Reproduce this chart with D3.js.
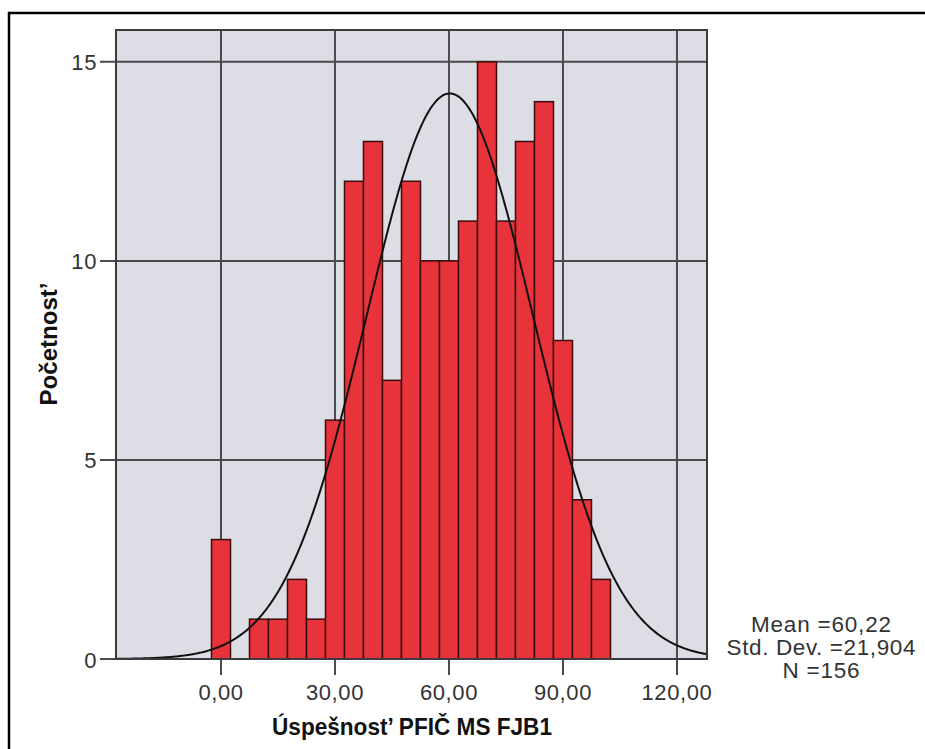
<!DOCTYPE html>
<html>
<head>
<meta charset="utf-8">
<script src="https://cdn.jsdelivr.net/npm/d3@7"></script>
<style>
  html, body { margin: 0; padding: 0; background: #fff; }
  svg { display: block; }
  text { font-family: "Liberation Sans", Arial, sans-serif; }
</style>
</head>
<body>
<svg id="chart" width="925" height="749"></svg>
<script>
// ---- data ----
const binCenters = [0, 5, 10, 15, 20, 25, 30, 35, 40, 45, 50, 55, 60, 65, 70, 75, 80, 85, 90, 95, 100];
const binCounts  = [3, 0, 1, 1, 2, 1, 6, 12, 13, 7, 12, 10, 10, 11, 15, 11, 13, 14, 8, 4, 2];
const binWidth = 5;
const xTicks = [0, 30, 60, 90, 120];
const xTickLabels = ["0,00", "30,00", "60,00", "90,00", "120,00"];
const yTicks = [0, 5, 10, 15];
const yTickLabels = ["0", "5", "10", "15"];
const statMean = 60.22;
const statSD = 21.904;
const statN = 156;
const statLines = ["Mean =60,22", "Std. Dev. =21,904", "N =156"];
const xTitle = "Úspešnost’ PFIČ MS FJB1";
const yTitle = "Početnost’";

// ---- layout ----
const svg = d3.select("#chart");
const plot = { left: 116, right: 707, top: 30, bottom: 659 };

const x = d3.scaleLinear().domain([-27.63, 127.9]).range([plot.left, plot.right]);
const y = d3.scaleLinear().domain([0, 15.8]).range([plot.bottom, plot.top]);

// outer frame (cropped at right/bottom)
svg.append("rect")
  .attr("x", 9).attr("y", 13).attr("width", 940).attr("height", 760)
  .attr("fill", "none").attr("stroke", "#000").attr("stroke-width", 2.5);

// plot background
svg.append("rect")
  .attr("x", plot.left).attr("y", plot.top)
  .attr("width", plot.right - plot.left).attr("height", plot.bottom - plot.top)
  .attr("fill", "#dddde5");

// grid lines
const gridColor = "#4a4a4f";
svg.append("g").selectAll("line").data(xTicks).join("line")
  .attr("x1", d => x(d)).attr("x2", d => x(d))
  .attr("y1", plot.top).attr("y2", plot.bottom + 16)
  .attr("stroke", gridColor).attr("stroke-width", 2);
svg.append("g").selectAll("line").data(yTicks).join("line")
  .attr("x1", plot.left - 16).attr("x2", plot.right)
  .attr("y1", d => y(d)).attr("y2", d => y(d))
  .attr("stroke", gridColor).attr("stroke-width", 2);

// bars
const bins = binCenters.map((c, i) => ({ c, n: binCounts[i] })).filter(d => d.n > 0);
svg.append("g").selectAll("rect").data(bins).join("rect")
  .attr("x", d => x(d.c - binWidth / 2))
  .attr("width", d => x(d.c + binWidth / 2) - x(d.c - binWidth / 2))
  .attr("y", d => y(d.n))
  .attr("height", d => y(0) - y(d.n))
  .attr("fill", "#e8333b")
  .attr("stroke", "#3a0c0c").attr("stroke-width", 1.5);

// normal curve
const dom = x.domain();
const pts = d3.range(dom[0], dom[1] + 0.01, 0.25).map(v => {
  const z = (v - statMean) / statSD;
  return [v, statN * binWidth / (statSD * Math.sqrt(2 * Math.PI)) * Math.exp(-0.5 * z * z)];
});
svg.append("path")
  .datum(pts)
  .attr("d", d3.line().x(d => x(d[0])).y(d => y(d[1])))
  .attr("fill", "none").attr("stroke", "#111").attr("stroke-width", 2);

// plot border
svg.append("rect")
  .attr("x", plot.left).attr("y", plot.top)
  .attr("width", plot.right - plot.left).attr("height", plot.bottom - plot.top)
  .attr("fill", "none").attr("stroke", "#3a3a3f").attr("stroke-width", 2);

// tick labels
svg.append("g").selectAll("text").data(xTicks).join("text")
  .attr("x", d => x(d)).attr("y", 700)
  .attr("text-anchor", "middle")
  .attr("font-size", 22).attr("letter-spacing", 0.6)
  .attr("fill", "#333")
  .text((d, i) => xTickLabels[i]);
svg.append("g").selectAll("text").data(yTicks).join("text")
  .attr("x", 97).attr("y", d => y(d) + 8.5)
  .attr("text-anchor", "end")
  .attr("font-size", 22).attr("letter-spacing", 0.6)
  .attr("fill", "#333")
  .text((d, i) => yTickLabels[i]);

// axis titles
svg.append("text")
  .attr("x", 412).attr("y", 735)
  .attr("text-anchor", "middle")
  .attr("font-size", 23).attr("font-weight", "bold")
  .attr("textLength", 280).attr("lengthAdjust", "spacingAndGlyphs")
  .attr("fill", "#111")
  .text(xTitle);
svg.append("text")
  .attr("transform", "translate(57,344) rotate(-90)")
  .attr("text-anchor", "middle")
  .attr("font-size", 23).attr("font-weight", "bold")
  .attr("textLength", 123).attr("lengthAdjust", "spacingAndGlyphs")
  .attr("fill", "#111")
  .text(yTitle);

// stats
const statLens = [140, 189, 77];
const statY = [632, 655, 678];
svg.append("g").selectAll("text").data(statLines).join("text")
  .attr("x", 821).attr("y", (d, i) => statY[i])
  .attr("text-anchor", "middle")
  .attr("font-size", 22.5)
  .attr("textLength", (d, i) => statLens[i])
  .attr("lengthAdjust", "spacing")
  .attr("fill", "#333")
  .text(d => d);
</script>
</body>
</html>
